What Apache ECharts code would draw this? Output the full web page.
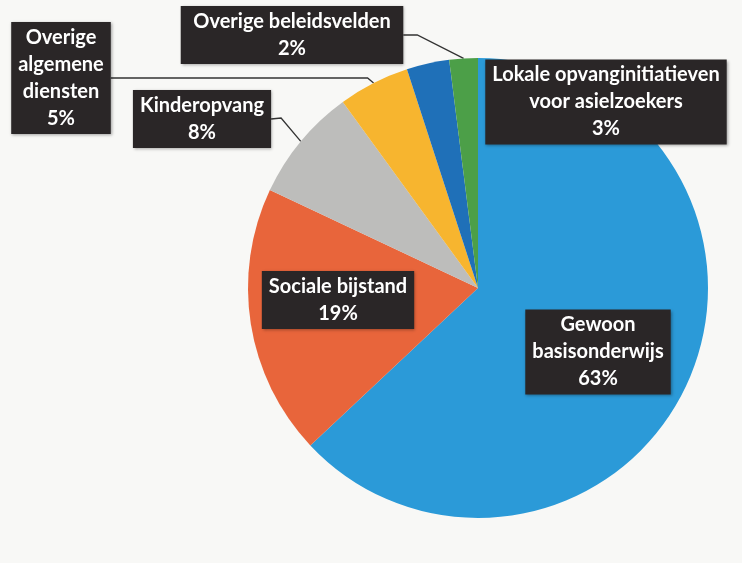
<!DOCTYPE html>
<html>
<head>
<meta charset="utf-8">
<script src="https://cdn.jsdelivr.net/npm/echarts@6/dist/echarts.min.js"></script>
<style>
html,body{margin:0;padding:0;background:#f8f8f6;}
#chart{width:742px;height:563px;}
</style>
</head>
<body>
<div id="chart"></div>
<script>
// ---- data ----
const categories = [
  'Gewoon basisonderwijs',
  'Sociale bijstand',
  'Kinderopvang',
  'Overige algemene diensten',
  'Lokale opvanginitiatieven voor asielzoekers',
  'Overige beleidsvelden'
];
const labelText = [
  'Gewoon\nbasisonderwijs',
  'Sociale bijstand',
  'Kinderopvang',
  'Overige\nalgemene\ndiensten',
  'Lokale opvanginitiatieven\nvoor asielzoekers',
  'Overige beleidsvelden'
];
const values = [63, 19, 8, 5, 3, 2];
const colors = ['#2b9ad8', '#e8653b', '#bdbdbb', '#f7b52f', '#1f70b8', '#4c9f48'];

// ---- layout (styling only) ----
const CX = 478, CY = 288, R = 230;
// label box centres
const labelPos = [
  [598, 352],
  [338, 300],
  [202, 119],
  [61, 78],
  [606, 102],
  [292, 35]
];

const chart = echarts.init(document.getElementById('chart'));
const total = values.reduce((a, b) => a + b, 0);

function pointAt(fracAngle, rr) {
  const a = fracAngle * 2 * Math.PI;
  return [CX + rr * Math.sin(a), CY - rr * Math.cos(a)];
}

const option = {
  backgroundColor: '#f8f8f6',
  animation: false,
  series: [{
    type: 'pie',
    center: [CX, CY],
    radius: R,
    startAngle: 90,
    clockwise: true,
    data: categories.map((c, i) => ({
      name: c,
      value: values[i],
      itemStyle: { color: colors[i] },
      label: i < 2 ? { position: 'inside' } : undefined,
      labelLine: i < 2 ? { show: false } : undefined
    })),
    itemStyle: { borderWidth: 0 },
    label: {
      show: true,
      position: 'outside',
      alignTo: 'none',
      overflow: 'none',
      formatter: p => labelText[p.dataIndex] + '\n' + values[p.dataIndex] + '%',
      color: '#ffffff',
      fontFamily: 'Lato',
      fontWeight: 'bold',
      fontSize: 20,
      lineHeight: 27,
      align: 'center',
      backgroundColor: '#2a2627',
      padding: [2, 7, 2, 7],
      shadowColor: 'rgba(0,0,0,0.35)',
      shadowBlur: 3,
      shadowOffsetX: 1,
      shadowOffsetY: 1
    },
    labelLine: {
      show: true,
      length: 10,
      length2: 10,
      lineStyle: { color: '#333333', width: 1.3 }
    },
    labelLayout: function (params) {
      const i = params.dataIndex;
      const pos = labelPos[i];
      const w = params.labelRect.width;
      const res = { x: pos[0], y: pos[1], align: 'center', verticalAlign: 'middle' };
      const left = pos[0] - w / 2, right = pos[0] + w / 2;
      let cum = 0;
      for (let k = 0; k < i; k++) cum += values[k];
      const midFrac = (cum + values[i] / 2) / total;
      if (i === 4) {
        const p0 = pointAt((cum + values[i]) / total, 0.66 * R);
        res.labelLinePoints = [p0, [left - 4, pos[1] - 10], [left, pos[1] - 10]];
      } else if (i > 1) {
        const p0 = pointAt(midFrac, R);
        let bend;
        if (i === 3) bend = [p0[0] - 6, pos[1]];
        else if (i === 2) bend = [right + 10, pos[1] - 1];
        else bend = [right + 14, pos[1]];
        res.labelLinePoints = [p0, bend, [right, pos[1]]];
      }
      return res;
    }
  }]
};
chart.setOption(option);
</script>
</body>
</html>
